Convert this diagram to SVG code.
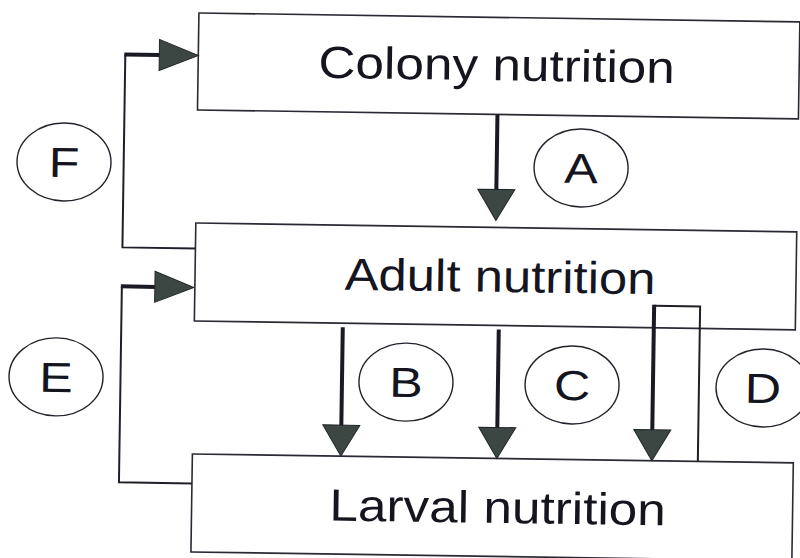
<svg xmlns="http://www.w3.org/2000/svg" width="800" height="558" viewBox="0 0 800 558">
<style>
.box{fill:#fff;stroke:#2a2a35;stroke-width:1.6}
.lbl{font-family:"Liberation Sans",Arial,sans-serif;font-size:45px;fill:#15151f;text-anchor:middle}
.tag{fill:#fff;stroke:#22222c;stroke-width:1.4}
.tagt{font-family:"Liberation Sans",Arial,sans-serif;font-size:42px;fill:#15151f;text-anchor:middle}
.stem{stroke:#1a1a24;stroke-width:4;fill:none}
.thin{stroke:#1f1f2a;stroke-width:2;fill:none}
.head{fill:#3c4743;stroke:#22262a;stroke-width:1}
</style>
<rect width="800" height="558" fill="#fff"/>
<g transform="rotate(0.85 400 279)">
  <g id="colony">
    <rect class="box" x="195" y="16" width="601" height="97"/>
    <text class="lbl" transform="translate(493.5 79) scale(1.14 1)">Colony nutrition</text>
  </g>
  <g id="adult">
    <rect class="box" x="195" y="226" width="601" height="98"/>
    <text class="lbl" transform="translate(500 290.5) scale(1.13 1)">Adult nutrition</text>
  </g>
  <g id="larval">
    <rect class="box" x="195" y="457" width="601" height="98"/>
    <text class="lbl" transform="translate(501 521.5) scale(1.14 1)">Larval nutrition</text>
  </g>
  <g id="connectors">
    <line class="stem" x1="495" y1="113" x2="495" y2="189"/>
    <polygon class="head" points="476.5,188 513.5,188 495,219"/>
    <line class="stem" x1="343.5" y1="328" x2="343.5" y2="427"/>
    <polygon class="head" points="325,426 362,426 343.5,457"/>
    <line class="stem" x1="499.5" y1="328" x2="499.5" y2="427"/>
    <polygon class="head" points="481,426 518,426 499.5,457"/>
    <path class="thin" d="M654.5 302 H700.5 V457"/>
    <line class="stem" x1="654.5" y1="301" x2="654.5" y2="427"/>
    <polygon class="head" points="636,426 673,426 654.5,457"/>
    <path class="thin" d="M195 251.5 H122 V58.5"/>
    <line class="stem" x1="121" y1="58.5" x2="157" y2="58.5"/>
    <polygon class="head" points="156,43 156,74 195,58.5"/>
    <path class="thin" d="M195 486.5 H122 V290.5"/>
    <line class="stem" x1="121" y1="290.5" x2="156" y2="290.5"/>
    <polygon class="head" points="155,275 155,306 194,290.5"/>
  </g>
  <g id="label-A">
    <ellipse class="tag" cx="579.4" cy="165.3" rx="47" ry="39"/>
    <text class="tagt" transform="translate(579.4 180.3) scale(1.2 1)">A</text>
  </g>
  <g id="label-B">
    <ellipse class="tag" cx="407.5" cy="382" rx="47" ry="39"/>
    <text class="tagt" transform="translate(407.5 397) scale(1.2 1)">B</text>
  </g>
  <g id="label-C">
    <ellipse class="tag" cx="573.6" cy="382.4" rx="47" ry="39"/>
    <text class="tagt" transform="translate(573.6 397.4) scale(1.2 1)">C</text>
  </g>
  <g id="label-D">
    <ellipse class="tag" cx="764.6" cy="382.6" rx="47" ry="39"/>
    <text class="tagt" transform="translate(764.6 397.6) scale(1.2 1)">D</text>
  </g>
  <g id="label-E">
    <ellipse class="tag" cx="57.5" cy="382" rx="47" ry="39"/>
    <text class="tagt" transform="translate(57.5 397) scale(1.2 1)">E</text>
  </g>
  <g id="label-F">
    <ellipse class="tag" cx="62.3" cy="167" rx="47" ry="39"/>
    <text class="tagt" transform="translate(62.3 182) scale(1.2 1)">F</text>
  </g>
</g>
</svg>
